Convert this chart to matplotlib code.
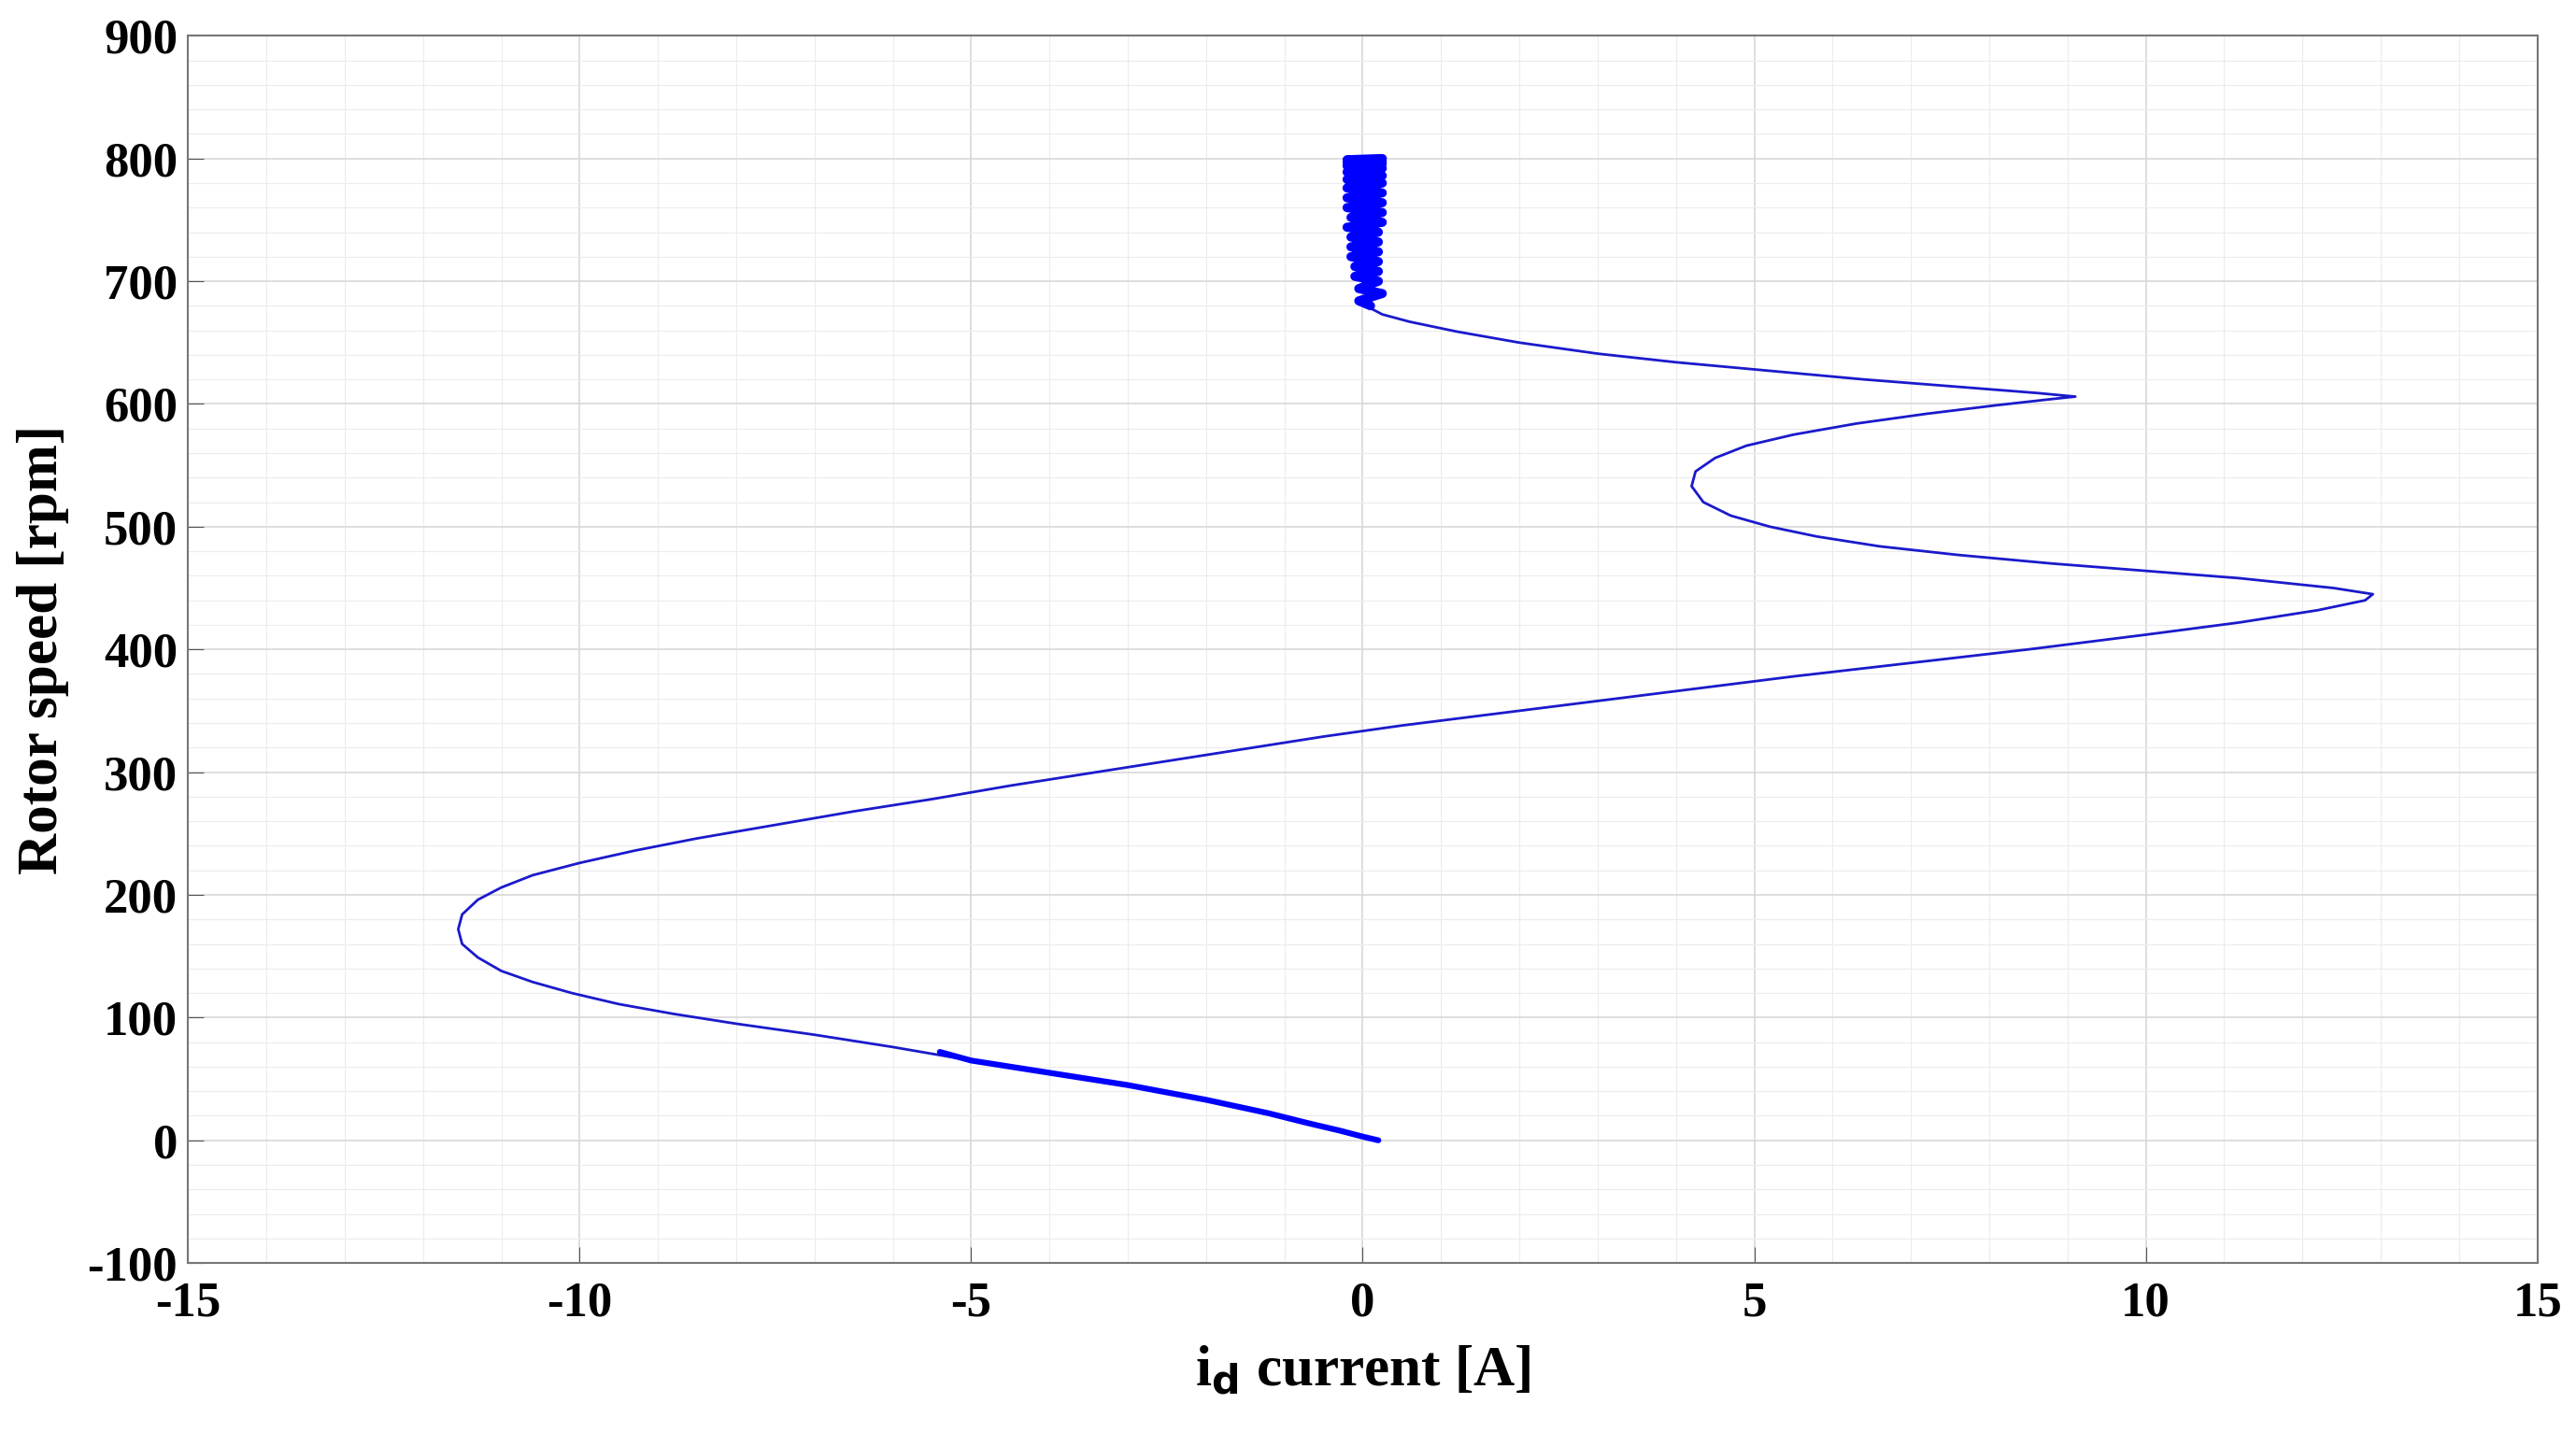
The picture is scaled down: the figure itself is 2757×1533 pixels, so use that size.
import numpy as np
import matplotlib.pyplot as plt
from matplotlib.ticker import MultipleLocator

# main trajectory (id current [A], rotor speed [rpm])
id_main = [0.2, 0.0, -0.3, -0.7, -1.2, -2, -3, -4, -5, -6, -7, -8, -8.8, -9.5, -10.1,
           -10.6, -11.0, -11.3, -11.5, -11.55, -11.5, -11.3, -11.0, -10.6, -10.0, -9.3,
           -8.5, -7.5, -6.5, -5.5, -4.5, -3.5, -2.5, -1.5, -0.5, 0.5, 1.5, 2.5, 4, 5.5,
           7, 8.5, 10, 11.2, 12.2, 12.8, 12.9, 12.4, 11.2, 10, 8.8, 7.6, 6.6, 5.8, 5.2,
           4.7, 4.35, 4.2, 4.25, 4.5, 4.9, 5.5, 6.3, 7.2, 8.1, 8.8, 9.1, 8.6, 7.6, 6.4,
           5.2, 4.0, 3.0, 2.0, 1.2, 0.6, 0.25, 0.1]
speed_main = [0, 3, 8, 14, 22, 33, 45, 55, 65, 76, 86, 95, 103, 111, 120,
              129, 138, 149, 160, 172, 184, 196, 206, 216, 226, 236,
              246, 257, 268, 278, 289, 299, 309, 319, 329, 338, 346, 354, 366, 378,
              389, 400, 412, 422, 432, 440, 445, 450, 458, 464, 470, 477, 484, 492, 500,
              509, 520, 533, 545, 556, 566, 575, 584, 592, 599, 604, 606, 609, 614, 620,
              627, 634, 641, 650, 659, 667, 673, 678]

# steady-state ripple at the top
id_noise = [0.1, -0.05, 0.25, -0.05, 0.2, -0.1, 0.2, -0.1, 0.2, -0.15, 0.2, -0.15,
            0.2, -0.15, 0.2, -0.2, 0.25, -0.15, 0.25, -0.2, 0.25, -0.2, 0.25, -0.2,
            0.25, -0.2, 0.25, -0.2, 0.25, -0.2, 0.25, -0.2, 0.25, -0.2, 0.25]
speed_noise = [680, 684, 690, 694, 700, 704, 708, 712, 716, 720, 724, 728,
               732, 736, 740, 744, 748, 752, 756, 760, 764, 768, 772, 776,
               780, 783, 786, 789, 792, 794, 796, 797, 798, 799, 800]

# ripple near standstill (thicker band along the curve)
id_low = [-5.4, -5, -4, -3, -2, -1.2, -0.7, -0.3, 0.0, 0.2]
speed_low = [72, 65, 55, 45, 33, 22, 14, 8, 3, 0]

plt.rcParams['font.family'] = ['Liberation Serif', 'DejaVu Serif']
plt.rcParams['font.weight'] = 'bold'
plt.rcParams['axes.unicode_minus'] = False

fig = plt.figure(figsize=(27.57, 15.33), dpi=100)
ax = fig.add_axes([0.073, 0.118, 0.912, 0.857])

ax.plot(id_main, speed_main, color='#1a1acc', lw=2)
ax.plot(id_noise, speed_noise, color='#0000ff', lw=7, solid_joinstyle='round',
        solid_capstyle='round')
ax.plot(id_low, speed_low, color='#0000ff', lw=4.5, solid_capstyle='round')

ax.set_xlim(-15, 15)
ax.set_ylim(-100, 900)
ax.xaxis.set_major_locator(MultipleLocator(5))
ax.yaxis.set_major_locator(MultipleLocator(100))
ax.xaxis.set_minor_locator(MultipleLocator(1))
ax.yaxis.set_minor_locator(MultipleLocator(20))
ax.grid(which='major', color='#d8d8d8', lw=1.2)
ax.grid(which='minor', color='#ececec', lw=0.8)
ax.tick_params(which='major', labelsize=38, length=12, direction='in', color='#555555')
ax.tick_params(axis='x', pad=14)
ax.tick_params(axis='y', pad=8)
ax.tick_params(which='minor', length=0)
for t in ax.get_xticklabels() + ax.get_yticklabels():
    t.set_fontweight('bold')
for s in ax.spines.values():
    s.set_color('#777777')
    s.set_linewidth(1.5)

ax.set_xlabel(r'i$_\mathbf{d}$ current [A]', fontsize=44, fontweight='bold', labelpad=14)
ax.set_ylabel('Rotor speed [rpm]', fontsize=44, fontweight='bold', labelpad=14)

fig.savefig('out.png', dpi=100)
